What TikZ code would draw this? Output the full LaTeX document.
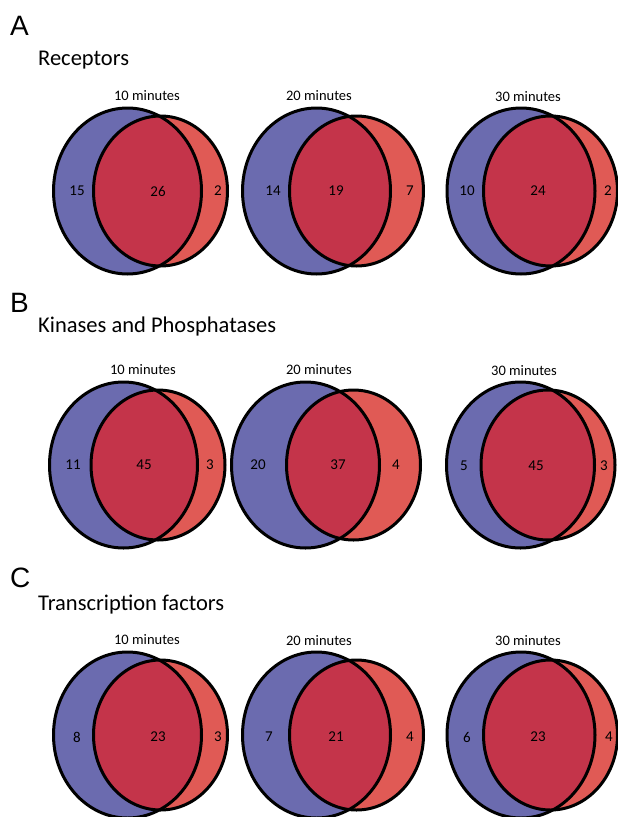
\documentclass[tikz,border=0pt]{standalone}
\usepackage{fontspec}
\setmainfont{Carlito}
\newfontfamily\panelfont{Liberation Sans}
\usetikzlibrary{positioning}
\definecolor{vennblue}{RGB}{107,107,175}
\definecolor{vennred}{RGB}{224,90,85}
\definecolor{vennover}{RGB}{196,52,74}

\begin{document}
\begin{tikzpicture}[x=1pt,y=-1pt,
    ring/.style={draw=black, line width=3pt},
    panel/.style={font=\panelfont\fontsize{28}{30}\selectfont, anchor=base west, inner sep=0pt},
    heading/.style={font=\fontsize{22.5}{24}\selectfont, anchor=base west, inner sep=0pt},
    timept/.style={font=\fontsize{14.5}{16}\selectfont, inner sep=0pt},
    count/.style={font=\fontsize{15}{16}\selectfont, inner sep=0pt}
]
\useasboundingbox (0,0) rectangle (618,817);

% Panel letters and headings
\node[panel] (lblA) at (10,35) {A};
\node[heading] (headA) at (38,65) {Receptors};
\node[panel] (lblB) at (10,312) {B};
\node[heading] (headB) at (38,332) {Kinases and Phosphatases};
\node[panel] (lblC) at (10,587) {C};
\node[heading] (headC) at (38,610) {Transcription factors};

% Venn pairs: blue centre x / red centre x / centre y / title x / title y / minutes
\foreach \bx/\rx/\cy/\tx/\ty/\mins [count=\i] in {
    127.5/160.5/191/147/96/10, 316.5/356.5/191/319/96/20, 521/550.5/191/528/97/30,
    123.5/158/465/143/370/10, 305.5/353.5/465/319/370/20, 520.5/548/465/524/371/30,
    127.5/160.5/735/147/640/10, 316.5/356.5/735/319/641/20, 521/550.5/735/528/641/30}{
  \fill[vennblue] (\bx,\cy) ellipse [x radius=74pt, y radius=83pt];
  \fill[vennred] (\rx,\cy) ellipse [x radius=67pt, y radius=75pt];
  \begin{scope}
    \clip (\bx,\cy) ellipse [x radius=74pt, y radius=83pt];
    \fill[vennover] (\rx,\cy) ellipse [x radius=67pt, y radius=75pt];
  \end{scope}
  \draw[ring] (\bx,\cy) ellipse [x radius=74pt, y radius=83pt];
  \draw[ring] (\rx,\cy) ellipse [x radius=67pt, y radius=75pt];
  \node[timept] (time\i) at (\tx,\ty) {\mins\ minutes};
}

% Counts: only blue / both / only red
\foreach \x/\y/\v [count=\j] in {
    77/191/15, 158/191/26, 218/191/2,
    273/191/14, 336/191/19, 410/191/7,
    467/191/10, 538/191/24, 608/191/2,
    73/465/11, 144/465/45, 210/465/3,
    258/465/20, 338/465/37, 396/465/4,
    464/466/5, 536/466/45, 604/466/3,
    77/737/8, 158/737/23, 218/737/3,
    269/737/7, 336/737/21, 410/737/4,
    467/737/6, 538/737/23, 609/737/4}{
  \node[count] (num\j) at (\x,\y) {\v};
}

\end{tikzpicture}
\end{document}
